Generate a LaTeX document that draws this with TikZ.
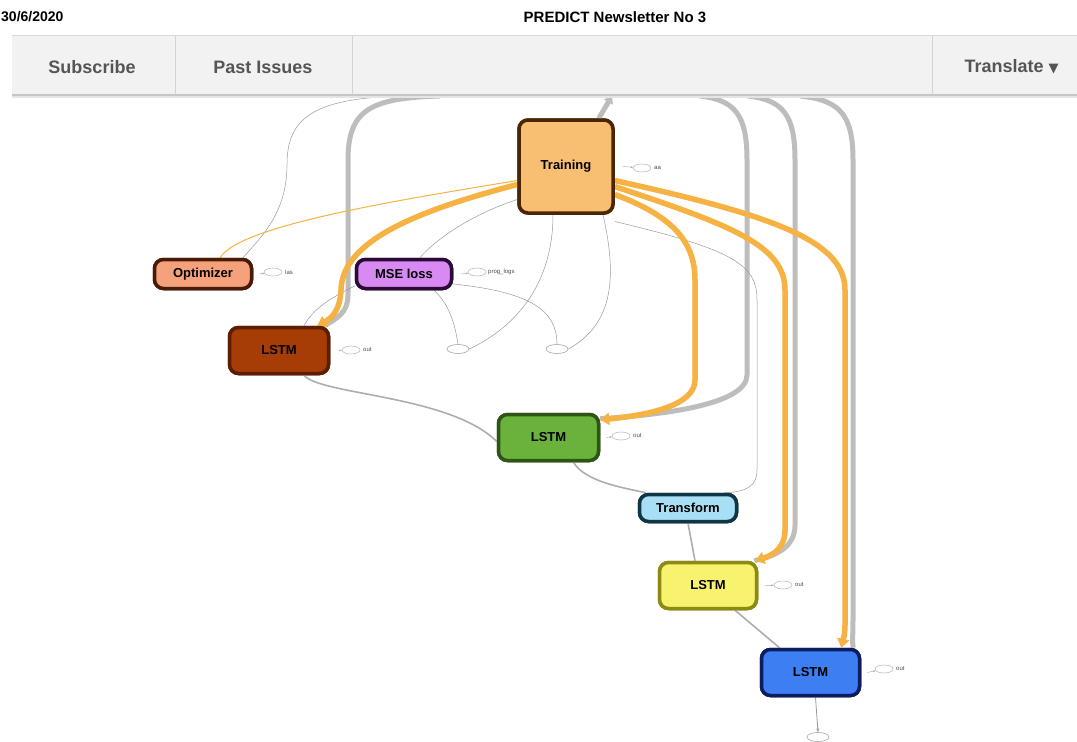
\documentclass[tikz,border=0pt]{standalone}
\usepackage{fontspec}
\setmainfont{Liberation Sans}
\setsansfont{Liberation Sans}
\newfontfamily\symfont{DejaVu Sans}
\usetikzlibrary{arrows.meta,shapes.geometric}
\definecolor{edgeor}{HTML}{F6B243}
\definecolor{edgegr}{HTML}{BDBDBD}
\definecolor{thingr}{HTML}{9A9A9A}
\definecolor{trainf}{HTML}{F8BE72}\definecolor{traind}{HTML}{4B2605}
\definecolor{optf}{HTML}{F5A27C}\definecolor{optd}{HTML}{4A1A05}
\definecolor{msef}{HTML}{D98AF2}\definecolor{msed}{HTML}{2B0A38}
\definecolor{lafill}{HTML}{A63C06}\definecolor{ladraw}{HTML}{5B1E02}
\definecolor{lbfill}{HTML}{6AB23C}\definecolor{lbdraw}{HTML}{2E5516}
\definecolor{trf}{HTML}{A9DFF5}\definecolor{trd}{HTML}{0F3645}
\definecolor{lcfill}{HTML}{F8F36E}\definecolor{lcdraw}{HTML}{8C8A12}
\definecolor{ldfill}{HTML}{3D7FF2}\definecolor{lddraw}{HTML}{0B1D5E}
\definecolor{navbg}{HTML}{F2F2F2}
\definecolor{navtx}{HTML}{555555}
\tikzset{
  box/.style={draw, rounded corners=9pt, line width=3.5pt, font=\sffamily\bfseries\fontsize{13}{15}\selectfont, inner sep=0pt},
  oredge/.style={draw=edgeor, line width=5.5pt, -{Triangle[length=9pt,width=12pt]}},
  oredgethin/.style={draw=edgeor, line width=1pt},
  gredge/.style={draw=edgegr, line width=5pt},
  thinedge/.style={draw=thingr, line width=0.5pt},
  midedge/.style={draw=thingr!80, line width=1.6pt},
  ell/.style={draw=gray!60, line width=0.5pt, ellipse, minimum width=18pt, minimum height=8pt, inner sep=0pt},
  bigell/.style={draw=gray!70, line width=0.6pt, ellipse, minimum width=22pt, minimum height=9pt, inner sep=0pt},
  tag/.style={font=\sffamily\fontsize{6}{7}\selectfont, text=gray!60!black, inner sep=0pt, anchor=west},
  tagarrow/.style={draw=gray!70, line width=0.4pt, -{Stealth[length=2.5pt]}},
  navtext/.style={font=\sffamily\bfseries\fontsize{18}{21}\selectfont, text=navtx},
}
\begin{document}
\begin{tikzpicture}[x=1pt,y=-1pt]
\useasboundingbox (0,0) rectangle (1077,742);
\fill[white] (0,0) rectangle (1077,742);

% nodes
\node[box, fill=trainf, draw=traind, minimum width=94pt, minimum height=93pt] (train) at (566,166.5) {Training};
\node[box, fill=optf, draw=optd, minimum width=97pt, minimum height=29pt] (opt) at (203,274) {Optimizer};
\node[box, fill=msef, draw=msed, minimum width=95pt, minimum height=29pt] (mse) at (404,274) {MSE loss};
\node[box, fill=lafill, draw=ladraw, minimum width=99pt, minimum height=46pt] (la) at (279,350.5) {LSTM};
\node[box, fill=lbfill, draw=lbdraw, minimum width=100pt, minimum height=46pt] (lb) at (548.5,437.5) {LSTM};
\node[box, fill=trf, draw=trd, minimum width=97pt, minimum height=27pt] (tr) at (688,508) {Transform};
\node[box, fill=lcfill, draw=lcdraw, minimum width=97pt, minimum height=46pt] (lc) at (708,585.5) {LSTM};
\node[box, fill=ldfill, draw=lddraw, minimum width=98pt, minimum height=46pt] (ld) at (810.5,672.5) {LSTM};

\node[bigell] (e1) at (458,349) {};
\node[bigell] (e2) at (557,349) {};
\node[bigell] (e3) at (818,737) {};

% hidden start points under the navigation bar
\coordinate (ta) at (440,96);
\coordinate (tb) at (700,96);
\coordinate (tc) at (748,96);
\coordinate (td) at (800,96);
\coordinate (te) at (380,97);
\coordinate (tf) at (612,96);

% thick gray edges
\draw[gredge] (ta) .. controls (370,98) and (348,110) .. (348,160) -- (348,295) .. controls (348,312) and (338,318) .. ([xshift=-6pt]la.north east);
\draw[gredge] (tb) .. controls (735,100) and (747,115) .. (747,160) -- (747,375) .. controls (747,405) and (660,415) .. ([yshift=-6pt]lb.north east);
\draw[gredge] (tc) .. controls (783,100) and (795,115) .. (795,160) -- (795,525) .. controls (795,545) and (780,555) .. ([xshift=-4pt]lc.north east);
\draw[gredge] (td) .. controls (840,100) and (853,115) .. (853,160) -- (853,620) .. controls (853,635) and (852,642) .. ([xshift=-8pt]ld.north east);
\draw[gredge, -{Triangle[length=7pt,width=10pt]}] ([xshift=-16pt]train.north east) -- (tf);

% thin gray edges
\draw[thinedge] (te) .. controls (305,102) and (287,125) .. (287,165) .. controls (287,215) and (258,240) .. ([xshift=40pt]opt.north);
\draw[thinedge] ([yshift=-33pt]train.west) .. controls (470,215) and (435,240) .. ([xshift=16pt]mse.north);
\draw[thinedge] ([xshift=-13pt]train.south) .. controls (553,280) and (520,325) .. (e1.east);
\draw[thinedge] ([xshift=37pt]train.south) .. controls (618,280) and (612,325) .. (e2.east);
\draw[thinedge] ([xshift=30pt]mse.south) .. controls (450,305) and (455,325) .. (e1.north);
\draw[thinedge] ([yshift=-10pt]mse.east) .. controls (530,292) and (557,310) .. (e2.north);
\draw[draw=gray!60!blue!60, line width=0.5pt] ([yshift=-12pt]mse.west) .. controls (330,298) and (312,310) .. ([xshift=25pt]la.north);
\draw[thinedge] ([yshift=-55pt]train.east) .. controls (735,250) and (757,265) .. (757,300) -- (757,470) .. controls (757,485) and (748,492) .. ([xshift=-14pt]tr.north east);
\draw[midedge] ([xshift=25pt]la.south) .. controls (320,395) and (450,395) .. ([yshift=-4pt]lb.west);
\draw[midedge] ([xshift=25pt]lb.south) .. controls (585,482) and (625,488) .. ([xshift=8pt]tr.north west);
\draw[midedge] (tr.south) -- ([xshift=-13pt]lc.north);
\draw[midedge] ([xshift=27pt]lc.south) -- ([xshift=-31pt]ld.north);
\draw[thinedge, line width=0.8pt, -{Stealth[length=4pt]}] ([xshift=5pt]ld.south) -- (e3.north);

% orange edges
\draw[oredgethin] ([yshift=-14pt]train.west) .. controls (400,200) and (240,225) .. ([xshift=17pt]opt.north);
\draw[oredge] ([yshift=-18pt]train.west) .. controls (420,210) and (342,240) .. (341,290) .. controls (340,310) and (332,318) .. ([xshift=-13pt]la.north east);
\draw[oredge] ([yshift=-28pt]train.east) .. controls (670,215) and (695,240) .. (695,280) -- (695,380) .. controls (695,405) and (650,415) .. ([yshift=-7pt]lb.north east);
\draw[oredge] ([yshift=-20pt]train.east) .. controls (730,225) and (785,245) .. (785,290) -- (785,530) .. controls (785,550) and (770,556) .. ([xshift=-3pt]lc.north east);
\draw[oredge] ([yshift=-14pt]train.east) .. controls (770,215) and (845,240) .. (845,290) -- (845,625) .. controls (845,635) and (843,640) .. ([xshift=-20pt]ld.north east);

% redraw nodes on top
\node[box, fill=trainf, draw=traind, minimum width=94pt, minimum height=93pt] at (566,166.5) {Training};
\node[box, fill=optf, draw=optd, minimum width=97pt, minimum height=29pt] at (203,274) {Optimizer};
\node[box, fill=msef, draw=msed, minimum width=95pt, minimum height=29pt] at (404,274) {MSE loss};
\node[box, fill=lafill, draw=ladraw, minimum width=99pt, minimum height=46pt] at (279,350.5) {LSTM};
\node[box, fill=lbfill, draw=lbdraw, minimum width=100pt, minimum height=46pt] at (548.5,437.5) {LSTM};
\node[box, fill=trf, draw=trd, minimum width=97pt, minimum height=27pt] at (688,508) {Transform};
\node[box, fill=lcfill, draw=lcdraw, minimum width=97pt, minimum height=46pt] at (708,585.5) {LSTM};
\node[box, fill=ldfill, draw=lddraw, minimum width=98pt, minimum height=46pt] at (810.5,672.5) {LSTM};

% side tags
\node[ell] (s1) at (642,168) {};
\node[tag] (s1t) at (654,168) {aa};
\draw[tagarrow] ([xshift=8pt]train.east) -- (s1);
\node[ell] (s2) at (273,272) {};
\node[tag] (s2t) at (285,272) {las};
\draw[tagarrow] ([xshift=6pt]opt.east) -- (s2);
\node[ell] (s3) at (477,272) {};
\node[tag] (s3t) at (488,272) {prog\_logs};
\draw[tagarrow] ([xshift=8pt]mse.east) -- (s3);
\node[ell] (s4) at (351,350) {};
\node[tag] (s4t) at (363,350) {out};
\draw[tagarrow] ([xshift=8pt]la.east) -- (s4);
\node[ell] (s5) at (621,436) {};
\node[tag] (s5t) at (633,436) {out};
\draw[tagarrow] ([xshift=6pt]lb.east) -- (s5);
\node[ell] (s6) at (783,585) {};
\node[tag] (s6t) at (795,585) {out};
\draw[tagarrow] ([xshift=6pt]lc.east) -- (s6);
\node[ell] (s7) at (884,669) {};
\node[tag] (s7t) at (896,669) {out};
\draw[tagarrow] ([xshift=6pt]ld.east) -- (s7);

% navigation bar
\fill[gray!20] (12,93) rectangle (1077,98);
\fill[navbg, fill opacity=0.93] (12,35) rectangle (1077,95);
\draw[gray!30, line width=0.8pt] (12,35) -- (1077,35);
\draw[gray!45, line width=1.2pt] (12,95) -- (1077,95);
\draw[gray!35, line width=0.8pt] (175,35) -- (175,95);
\draw[gray!35, line width=0.8pt] (352,35) -- (352,95);
\draw[gray!35, line width=0.8pt] (932,35) -- (932,95);
\node[navtext] (nav1) at (92,67) {Subscribe};
\node[navtext] (nav2) at (263,67) {Past Issues};
\node[navtext, anchor=west] (nav3) at (961,67) {Translate {\symfont\fontsize{13}{15}\selectfont ▼}};

% header
\node[font=\sffamily\bfseries\fontsize{14}{16}\selectfont, anchor=west, inner sep=0pt] (date) at (1,17) {30/6/2020};
\node[font=\sffamily\bfseries\fontsize{15}{17}\selectfont, inner sep=0pt] (title) at (615,17) {PREDICT Newsletter No 3};
\end{tikzpicture}
\end{document}
